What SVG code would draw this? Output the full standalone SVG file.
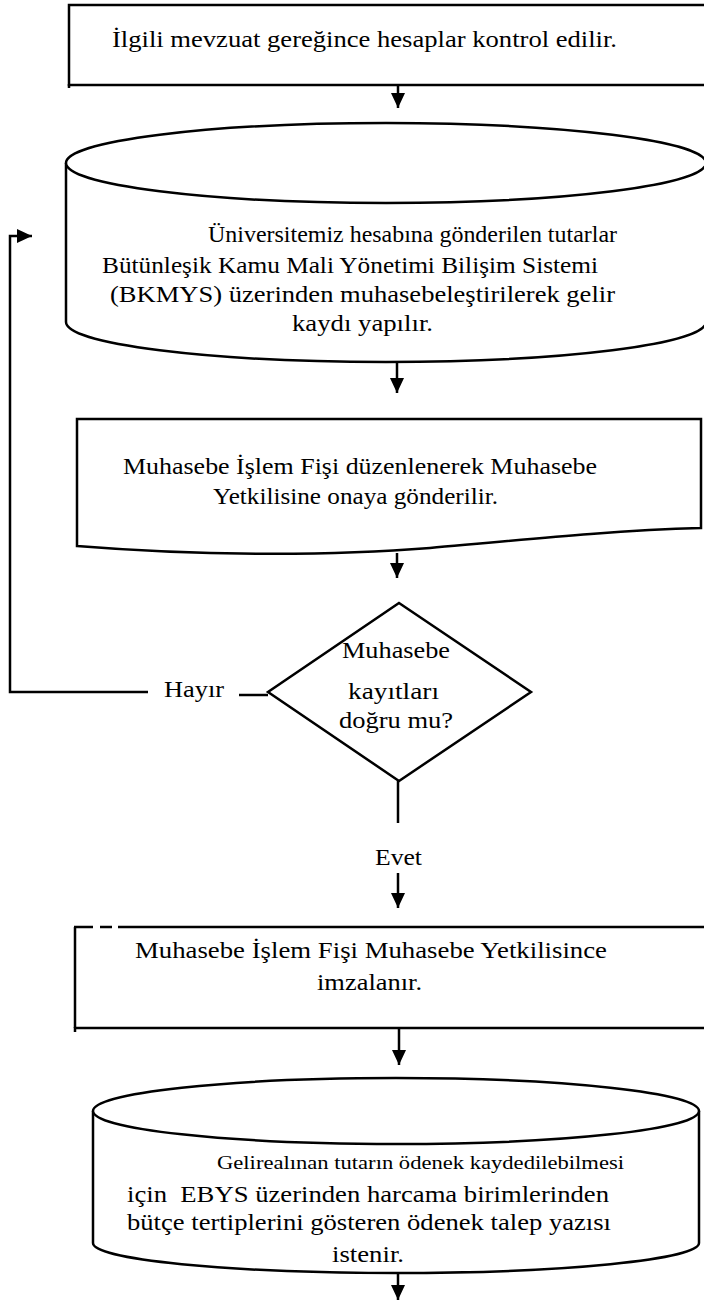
<svg xmlns="http://www.w3.org/2000/svg" width="704" height="1303" viewBox="0 0 704 1303">
<defs>
<style>
.sh{fill:#fff;stroke:#000;stroke-width:2.5}
.ln{fill:none;stroke:#000;stroke-width:2.5}
.t{font-family:"Liberation Serif","Times New Roman",serif;font-size:23px;fill:#000}
.ts{font-family:"Liberation Serif","Times New Roman",serif;font-size:18px;fill:#000}
</style>
<marker id="ah" markerUnits="userSpaceOnUse" markerWidth="15" markerHeight="14" refX="15" refY="7" orient="auto">
<path d="M0,0 L15,7 L0,14 z" fill="#000"/>
</marker>
</defs>
<rect width="704" height="1303" fill="#fff"/>

<g id="n1">
<rect class="sh" x="69" y="5" width="700" height="80"/>
<line class="ln" x1="69" y1="84" x2="69" y2="88"/>
<text class="t" x="112" y="47" textLength="505" lengthAdjust="spacingAndGlyphs">İlgili mevzuat gereğince hesaplar kontrol edilir.</text>
</g>

<g id="n2">
<path class="sh" d="M66,163 V322 A320,40 0 0 0 706,322 V163"/>
<ellipse class="sh" cx="386" cy="163" rx="320" ry="40"/>
<text class="t" x="208" y="242" textLength="409" lengthAdjust="spacingAndGlyphs">Üniversitemiz hesabına gönderilen tutarlar</text>
<text class="t" x="102" y="273" textLength="496" lengthAdjust="spacingAndGlyphs">Bütünleşik Kamu Mali Yönetimi Bilişim Sistemi</text>
<text class="t" x="110" y="302" textLength="505" lengthAdjust="spacingAndGlyphs">(BKMYS) üzerinden muhasebeleştirilerek gelir</text>
<text class="t" x="292" y="331" textLength="141" lengthAdjust="spacingAndGlyphs">kaydı yapılır.</text>
</g>

<g id="n3">
<path class="sh" d="M77,419 H701 V528 C620,530 540,538 430,548 C330,556 200,556 77,546 Z"/>
<text class="t" x="123" y="474" textLength="474" lengthAdjust="spacingAndGlyphs">Muhasebe İşlem Fişi düzenlenerek Muhasebe</text>
<text class="t" x="213" y="504" textLength="285" lengthAdjust="spacingAndGlyphs">Yetkilisine onaya gönderilir.</text>
</g>

<g id="n4">
<polygon class="sh" points="399,603 531,692 399,781 268,692"/>
<text class="t" x="342" y="658" textLength="108" lengthAdjust="spacingAndGlyphs">Muhasebe</text>
<text class="t" x="348" y="699" textLength="91" lengthAdjust="spacingAndGlyphs">kayıtları</text>
<text class="t" x="339" y="728" textLength="114" lengthAdjust="spacingAndGlyphs">doğru mu?</text>
</g>

<g id="n5">
<path class="sh" d="M75,1028 V927 M75,1028 H706"/>
<line class="ln" x1="75" y1="1027" x2="75" y2="1032"/>
<path class="ln" d="M74,927 H93 M100,927 H112 M118,927 H706"/>
<text class="t" x="135" y="958" textLength="472" lengthAdjust="spacingAndGlyphs">Muhasebe İşlem Fişi Muhasebe Yetkilisince</text>
<text class="t" x="317" y="990" textLength="105" lengthAdjust="spacingAndGlyphs">imzalanır.</text>
</g>

<g id="n6">
<path class="sh" d="M93,1111 V1243 A303,30 0 0 0 699,1243 V1111"/>
<ellipse class="sh" cx="396" cy="1111" rx="303" ry="33"/>
<text class="ts" x="217" y="1169" textLength="407" lengthAdjust="spacingAndGlyphs">Gelirealınan tutarın ödenek kaydedilebilmesi</text>
<text class="t" x="127" y="1202" textLength="482" lengthAdjust="spacingAndGlyphs" xml:space="preserve">için  EBYS üzerinden harcama birimlerinden</text>
<text class="t" x="127" y="1230" textLength="484" lengthAdjust="spacingAndGlyphs">bütçe tertiplerini gösteren ödenek talep yazısı</text>
<text class="t" x="332" y="1262" textLength="72" lengthAdjust="spacingAndGlyphs">istenir.</text>
</g>

<g id="connectors">
<line class="ln" x1="398" y1="86" x2="398" y2="108" marker-end="url(#ah)"/>
<line class="ln" x1="397" y1="362" x2="397" y2="393" marker-end="url(#ah)"/>
<line class="ln" x1="397" y1="553" x2="397" y2="578" marker-end="url(#ah)"/>
<line class="ln" x1="398" y1="781" x2="398" y2="823"/>
<line class="ln" x1="398" y1="873" x2="398" y2="908" marker-end="url(#ah)"/>
<line class="ln" x1="399" y1="1029" x2="399" y2="1065" marker-end="url(#ah)"/>
<line class="ln" x1="398" y1="1273" x2="398" y2="1300" marker-end="url(#ah)"/>
<line class="ln" x1="239" y1="695" x2="268" y2="695"/>
<polyline class="ln" points="148,692 10,692 10,236 32,236" marker-end="url(#ah)"/>
<text class="t" x="164" y="697" textLength="60" lengthAdjust="spacingAndGlyphs">Hayır</text>
<text class="t" x="375" y="865" textLength="47" lengthAdjust="spacingAndGlyphs">Evet</text>
</g>
</svg>
